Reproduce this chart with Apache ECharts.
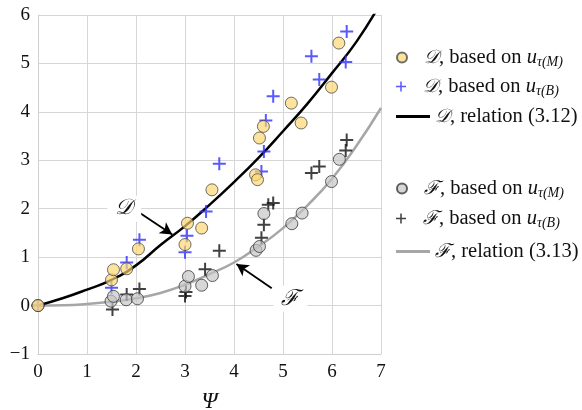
<!DOCTYPE html>
<html>
<head>
<meta charset="utf-8">
<script src="https://cdn.jsdelivr.net/npm/echarts@6/dist/echarts.min.js"></script>
<style>
  html, body { margin: 0; padding: 0; background: #fff; }
  #chart { width: 582px; height: 410px; }
</style>
</head>
<body>
<div id="chart"></div>
<script>
// Drag coefficient D and F against Ψ
const dCircPsi = [0, 1.50, 1.54, 1.81, 2.05, 3.00, 3.05, 3.34, 3.55, 4.44, 4.48, 4.52, 4.60, 5.17, 5.37, 5.99, 6.14];
const dCircVal = [0, 0.53, 0.74, 0.76, 1.17, 1.26, 1.70, 1.60, 2.39, 2.70, 2.60, 3.46, 3.70, 4.18, 3.77, 4.51, 5.42];

const dPlusPsi = [0, 1.50, 1.81, 2.07, 3.00, 3.04, 3.43, 3.70, 4.56, 4.61, 4.65, 4.80, 5.58, 5.74, 6.28, 6.30];
const dPlusVal = [0, 0.37, 0.89, 1.36, 1.10, 1.44, 1.94, 2.93, 2.77, 3.18, 3.82, 4.32, 5.15, 4.67, 5.03, 5.66];

const fCircPsi = [0, 1.49, 1.54, 1.80, 2.03, 3.00, 3.07, 3.34, 3.56, 4.45, 4.52, 4.61, 5.18, 5.39, 5.99, 6.15];
const fCircVal = [0, 0.09, 0.19, 0.12, 0.14, 0.40, 0.60, 0.42, 0.62, 1.14, 1.22, 1.90, 1.69, 1.91, 2.56, 3.02];

const fPlusPsi = [0, 1.52, 1.81, 2.07, 3.00, 3.02, 3.41, 3.70, 4.56, 4.61, 4.70, 4.80, 5.58, 5.74, 6.28, 6.30];
const fPlusVal = [0, -0.08, 0.23, 0.34, 0.20, 0.28, 0.75, 1.13, 1.40, 1.67, 2.08, 2.12, 2.74, 2.87, 3.20, 3.42];

// relation curves (3.12) and (3.13)
const relPsi = [0, 0.5, 1, 1.5, 2, 2.5, 3, 3.5, 4, 4.5, 5, 5.5, 6, 6.5, 7];
const dRelVal = [0, 0.15, 0.33, 0.53, 0.83, 1.25, 1.64, 2.08, 2.55, 3.05, 3.60, 4.17, 4.80, 5.45, 6.26];
const fRelVal = [0, 0.005, 0.03, 0.08, 0.15, 0.26, 0.43, 0.65, 0.89, 1.22, 1.60, 2.07, 2.62, 3.30, 4.08];

const legendText = {
  D_M: '{m|𝒟}, based on {i|u}{s|τ(M)}',
  D_B: '{m|𝒟}, based on {i|u}{s|τ(B)}',
  D_rel: '{m|𝒟}, relation (3.12)',
  F_M: '{m|ℱ}, based on {i|u}{s|τ(M)}',
  F_B: '{m|ℱ}, based on {i|u}{s|τ(B)}',
  F_rel: '{m|ℱ}, relation (3.13)'
};

const zip = (a, b) => a.map((v, i) => [v, b[i]]);

const serif = 'Liberation Serif';
const plusPath = 'path://M5.5,0 H7.5 V5.5 H13 V7.5 H7.5 V13 H5.5 V7.5 H0 V5.5 H5.5 Z';

const richStyle = {
  m: { fontFamily: serif, fontSize: 19, color: '#111', fontStyle: 'italic' },
  i: { fontFamily: serif, fontSize: 20.5, color: '#111', fontStyle: 'italic' },
  s: { fontFamily: serif, fontSize: 14, color: '#111', fontStyle: 'italic', padding: [9, 0, 0, 0] }
};

function legendAt(name, top, icon, w, h) {
  return {
    data: [{ name: name, icon: icon }],
    left: 391, top: top, orient: 'vertical',
    itemWidth: w, itemHeight: h,
    selectedMode: false,
    formatter: n => legendText[n],
    textStyle: { fontFamily: serif, fontSize: 20.5, color: '#111', rich: richStyle }
  };
}

const chart = echarts.init(document.getElementById('chart'), null, { renderer: 'canvas' });

const axisLabelStyle = { fontFamily: serif, fontSize: 19, color: '#111' };
const gridLine = { show: true, lineStyle: { color: '#d6d6d6', width: 1 } };

chart.setOption({
  animation: false,
  backgroundColor: '#fff',
  grid: { left: 38, right: 201, top: 15, bottom: 56, containLabel: false, outerBoundsMode: 'none' },
  xAxis: {
    type: 'value', min: 0, max: 7, interval: 1,
    axisLine: { show: true, onZero: false, lineStyle: { color: '#cfcfcf' } },
    axisTick: { show: false },
    splitLine: gridLine,
    axisLabel: Object.assign({ margin: 9 }, axisLabelStyle),
    name: 'Ψ', nameLocation: 'middle', nameGap: 36,
    nameTextStyle: { fontFamily: serif, fontSize: 23, fontStyle: 'italic', color: '#111' }
  },
  yAxis: {
    type: 'value', min: -1, max: 6, interval: 1,
    axisLine: { show: true, onZero: false, lineStyle: { color: '#cfcfcf' } },
    axisTick: { show: false },
    splitLine: gridLine,
    axisLabel: Object.assign({ margin: 8, formatter: v => (v < 0 ? '−' + Math.abs(v) : String(v)) }, axisLabelStyle)
  },
  legend: [
    legendAt('D_M', 42, 'circle', 34, 10),
    legendAt('D_B', 71, plusPath, 34, 10),
    legendAt('D_rel', 101, 'rect', 34, 3),
    legendAt('F_M', 173, 'circle', 34, 10),
    legendAt('F_B', 203, plusPath, 34, 10),
    legendAt('F_rel', 236, 'rect', 34, 3)
  ],
  series: [
    {
      name: 'F_rel', type: 'line', data: zip(relPsi, fRelVal), smooth: true,
      showSymbol: false, lineStyle: { color: '#a6a6a6', width: 2.5 }, itemStyle: { color: '#a6a6a6' }, z: 2
    },
    {
      name: 'D_rel', type: 'line', data: zip(relPsi, dRelVal), smooth: true,
      showSymbol: false, lineStyle: { color: '#000', width: 2.5 }, itemStyle: { color: '#000' }, z: 2
    },
    {
      name: 'F_B', type: 'scatter', data: zip(fPlusPsi, fPlusVal), symbol: plusPath, symbolSize: 13,
      itemStyle: { color: '#111' }, z: 3
    },
    {
      name: 'D_B', type: 'scatter', data: zip(dPlusPsi, dPlusVal), symbol: plusPath, symbolSize: 13,
      itemStyle: { color: '#2f2fff' }, z: 3
    },
    {
      name: 'F_M', type: 'scatter', data: zip(fCircPsi, fCircVal), symbol: 'circle', symbolSize: 12,
      itemStyle: { color: 'rgba(196,196,196,0.85)', borderColor: '#3a3a3a', borderWidth: 1 }, z: 4
    },
    {
      name: 'D_M', type: 'scatter', data: zip(dCircPsi, dCircVal), symbol: 'circle', symbolSize: 12,
      itemStyle: { color: 'rgba(252,214,110,0.85)', borderColor: '#4a4a4a', borderWidth: 1 }, z: 4
    },
    {
      // labelled arrows pointing at the two relation curves
      name: 'annot', type: 'line', data: [], silent: true, z: 5,
      markLine: {
        silent: true, symbol: ['none', 'arrow'], symbolSize: [10, 12],
        lineStyle: { color: '#000', width: 1.8, type: 'solid' },
        label: { show: false },
        data: [
          [{ coord: [1.98, 1.98] }, { coord: [2.74, 1.47] }],
          [{ coord: [4.77, 0.36] }, { coord: [4.05, 0.86] }]
        ]
      },
      markPoint: {
        silent: true, symbol: 'rect', symbolSize: 0,
        label: {
          show: true, fontFamily: serif, fontSize: 22, fontStyle: 'italic', color: '#111',
          backgroundColor: '#fff', padding: [2, 8, 2, 8]
        },
        data: [
          { coord: [1.76, 2.0], label: { formatter: '𝒟' } },
          { coord: [5.15, 0.14], label: { formatter: 'ℱ' } }
        ]
      }
    }
  ]
});
</script>
</body>
</html>
